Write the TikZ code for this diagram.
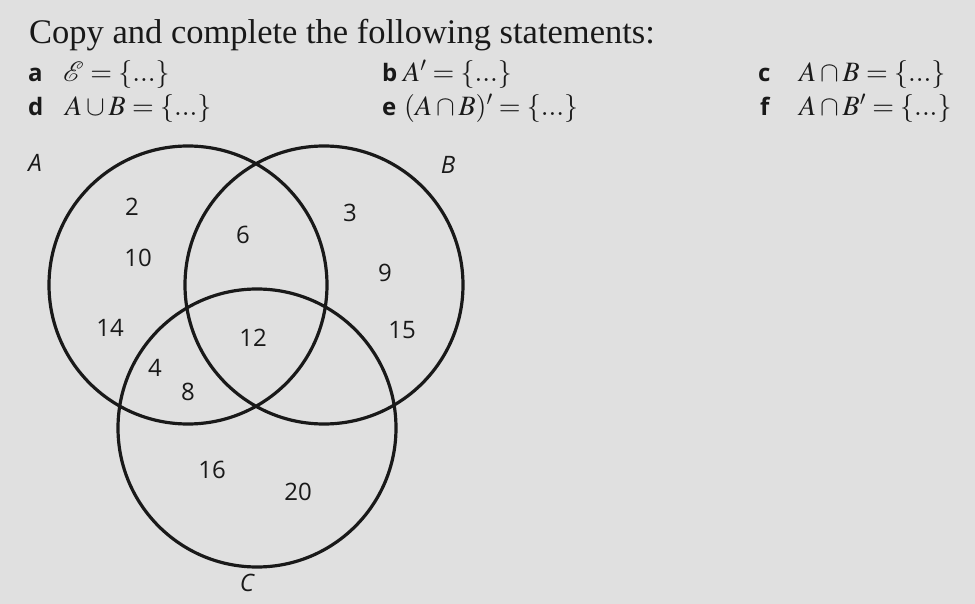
\documentclass[tikz,border=0pt]{standalone}
\usepackage{mathptmx}
\usepackage[no-math]{fontspec}
\setmainfont{Liberation Serif}
\newfontfamily\numfont{Open Sans}
\usepackage{tikz}
\usetikzlibrary{positioning}
\definecolor{PaperGrey}{RGB}{224,224,224}
\definecolor{InkBlack}{RGB}{25,25,25}

\begin{document}
\begin{tikzpicture}[x=1pt,y=-1pt,
  setcirc/.style={draw=InkBlack,line width=3.2pt,circle,minimum size=278pt,inner sep=0pt},
  elem/.style={text=InkBlack,font=\numfont\fontsize{24}{28}\selectfont},
  setname/.style={text=InkBlack,font=\numfont\itshape\fontsize{24}{28}\selectfont},
  part/.style={anchor=base west,inner sep=0pt,text=InkBlack,font=\numfont\bfseries\fontsize{24}{28}\selectfont},
  stmt/.style={anchor=base west,inner sep=0pt,text=InkBlack,font=\fontsize{28}{32}\selectfont},
]
\fill[PaperGrey] (0,0) rectangle (975,604);
\useasboundingbox (0,0) rectangle (975,604);
% question
\node[stmt,font=\fontsize{34.5}{40}\selectfont] (title) at (29,44) {Copy and complete the following statements:};
\node[part] (pa) at (28,82) {a};
\node[stmt] (sa) at (63,82) {$\mathcal{E}=\{...\}$};
\node[part] (pb) at (382,82) {b};
\node[stmt] (sb) at (403,82) {$A'=\{...\}$};
\node[part] (pc) at (758,82) {c};
\node[stmt] (sc) at (799,82) {$A\cap B=\{...\}$};
\node[part] (pd) at (28,116) {d};
\node[stmt] (sd) at (65,116) {$A\cup B=\{...\}$};
\node[part] (pe) at (382,116) {e};
\node[stmt] (se) at (404,116) {$(A\cap B)'=\{...\}$};
\node[part] (pf) at (760,116) {f};
\node[stmt] (sf) at (799,116) {$A\cap B'=\{...\}$};
% venn diagram
\node[setcirc] (A) at (188,285) {};
\node[setcirc] (B) at (324,285) {};
\node[setcirc] (C) at (257,428) {};
\node[setname] (labA) at (35,163) {A};
\node[setname] (labB) at (448,165) {B};
\node[setname] (labC) at (247,583) {C};
\node[elem] (e2) at (132,207) {2};
\node[elem] (e10) at (138,258) {10};
\node[elem] (e14) at (110,328) {14};
\node[elem] (e6) at (243,235) {6};
\node[elem] (e3) at (350,213) {3};
\node[elem] (e9) at (385,273) {9};
\node[elem] (e15) at (402,330) {15};
\node[elem] (e12) at (253,338) {12};
\node[elem] (e4) at (155,368) {4};
\node[elem] (e8) at (188,392) {8};
\node[elem] (e16) at (212,470) {16};
\node[elem] (e20) at (298,492) {20};
\end{tikzpicture}
\end{document}
